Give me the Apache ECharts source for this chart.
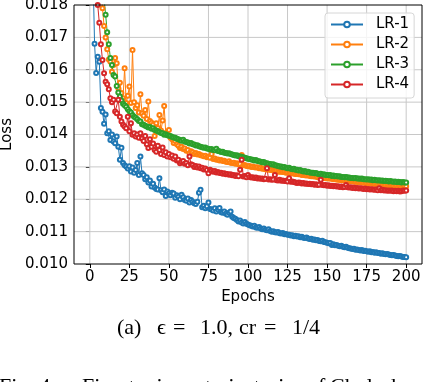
<!DOCTYPE html>
<html>
<head>
<meta charset="utf-8">
<script src="https://cdn.jsdelivr.net/npm/echarts@6/dist/echarts.min.js"></script>
<style>
  html, body { margin: 0; padding: 0; background: #fff; }
  #chart { width: 424px; height: 382px; }
</style>
</head>
<body>
<div id="chart"></div>
<script>
  // epochs 1..200, one loss value per epoch
  const xTicks = [0, 25, 50, 75, 100, 125, 150, 175, 200];
  const yTicks = [0.011, 0.012, 0.013, 0.014, 0.015, 0.016, 0.017];
  const xRange = [-10, 210];
  const yRange = [0.010, 0.018];
  const seriesNames = ['LR-1', 'LR-2', 'LR-3', 'LR-4'];

  const lr1 = [
    0.02150, 0.01900, 0.01680, 0.01590, 0.01640, 0.01625, 0.01482, 0.01470, 0.01433, 0.01462,
    0.01404, 0.01410, 0.01383, 0.01400, 0.01378, 0.01373, 0.01394, 0.01362, 0.01322, 0.01359,
    0.01312, 0.01305, 0.01301, 0.01295, 0.01302, 0.01286, 0.01298, 0.01282, 0.01290, 0.01312,
    0.01275, 0.01332, 0.01280, 0.01275, 0.01262, 0.01268, 0.01252, 0.01258, 0.01239, 0.01248,
    0.01236, 0.01232, 0.01230, 0.01265, 0.01228, 0.01222, 0.01230, 0.01210, 0.01224, 0.01218,
    0.01212, 0.01220, 0.01218, 0.01205, 0.01212, 0.01208, 0.01200, 0.01214, 0.01206, 0.01198,
    0.01195, 0.01202, 0.01190, 0.01198, 0.01192, 0.01188, 0.01185, 0.01192, 0.01220, 0.01229,
    0.01175, 0.01180, 0.01172, 0.01178, 0.01190, 0.01170, 0.01168, 0.01165, 0.01172, 0.01162,
    0.01168, 0.01173, 0.01160, 0.01158, 0.01162, 0.01155, 0.01152, 0.01158, 0.01162, 0.01146,
    0.01142, 0.01140, 0.01136, 0.01131, 0.01134, 0.01128, 0.01125, 0.01130, 0.01124, 0.01122,
    0.01120, 0.01118, 0.01116, 0.01118, 0.01113, 0.01112, 0.01114, 0.01110, 0.01107, 0.01110,
    0.01106, 0.01104, 0.01107, 0.01102, 0.01100, 0.01101, 0.01098, 0.01097, 0.01099, 0.01095,
    0.01094, 0.01096, 0.01092, 0.01093, 0.01090, 0.01090, 0.01088, 0.01089, 0.01086, 0.01087,
    0.01085, 0.01086, 0.01083, 0.01084, 0.01081, 0.01080, 0.01082, 0.01079, 0.01077, 0.01078,
    0.01075, 0.01076, 0.01073, 0.01074, 0.01071, 0.01070, 0.01072, 0.01068, 0.01067, 0.01066,
    0.01064, 0.01065, 0.01059, 0.01061, 0.01058, 0.01059, 0.01056, 0.01055, 0.01056, 0.01053,
    0.01052, 0.01053, 0.01050, 0.01049, 0.01048, 0.01046, 0.01047, 0.01044, 0.01045, 0.01043,
    0.01042, 0.01043, 0.01040, 0.01041, 0.01039, 0.01038, 0.01039, 0.01036, 0.01037, 0.01035,
    0.01036, 0.01034, 0.01034, 0.01032, 0.01033, 0.01031, 0.01030, 0.01031, 0.01029, 0.01028,
    0.01027, 0.01028, 0.01026, 0.01025, 0.01024, 0.01025, 0.01023, 0.01022, 0.01022, 0.01021
  ];

  const lr2 = [
    0.02500, 0.02300, 0.02150, 0.02030, 0.01950, 0.01900, 0.01860, 0.01790, 0.01735, 0.01700,
    0.01663, 0.01632, 0.01625, 0.01594, 0.01615, 0.01636, 0.01620, 0.01543, 0.01560, 0.01528,
    0.01512, 0.01605, 0.01497, 0.01520, 0.01548, 0.01497, 0.01661, 0.01500, 0.01482, 0.01490,
    0.01468, 0.01524, 0.01465, 0.01458, 0.01476, 0.01448, 0.01502, 0.01442, 0.01436, 0.01430,
    0.01395, 0.01435, 0.01420, 0.01460, 0.01412, 0.01443, 0.01488, 0.01405, 0.01400, 0.01414,
    0.01390, 0.01385, 0.01374, 0.01380, 0.01370, 0.01365, 0.01358, 0.01362, 0.01355, 0.01357,
    0.01350, 0.01352, 0.01342, 0.01348, 0.01345, 0.01340, 0.01343, 0.01338, 0.01340, 0.01336,
    0.01335, 0.01333, 0.01334, 0.01330, 0.01331, 0.01328, 0.01340, 0.01324, 0.01326, 0.01322,
    0.01323, 0.01320, 0.01321, 0.01318, 0.01319, 0.01316, 0.01315, 0.01317, 0.01313, 0.01312,
    0.01313, 0.01310, 0.01311, 0.01308, 0.01309, 0.01337, 0.01305, 0.01306, 0.01303, 0.01302,
    0.01303, 0.01300, 0.01301, 0.01299, 0.01298, 0.01299, 0.01296, 0.01297, 0.01294, 0.01295,
    0.01293, 0.01292, 0.01293, 0.01290, 0.01291, 0.01289, 0.01288, 0.01289, 0.01286, 0.01285,
    0.01285, 0.01284, 0.01284, 0.01282, 0.01283, 0.01281, 0.01280, 0.01281, 0.01279, 0.01278,
    0.01278, 0.01277, 0.01277, 0.01275, 0.01276, 0.01274, 0.01273, 0.01274, 0.01272, 0.01271,
    0.01271, 0.01270, 0.01270, 0.01268, 0.01269, 0.01267, 0.01267, 0.01266, 0.01265, 0.01265,
    0.01264, 0.01264, 0.01263, 0.01262, 0.01262, 0.01261, 0.01260, 0.01260, 0.01259, 0.01259,
    0.01258, 0.01258, 0.01257, 0.01256, 0.01256, 0.01255, 0.01255, 0.01254, 0.01253, 0.01253,
    0.01252, 0.01252, 0.01251, 0.01251, 0.01250, 0.01250, 0.01249, 0.01249, 0.01248, 0.01248,
    0.01247, 0.01247, 0.01246, 0.01246, 0.01245, 0.01245, 0.01244, 0.01244, 0.01244, 0.01243,
    0.01243, 0.01242, 0.01242, 0.01242, 0.01241, 0.01241, 0.01241, 0.01240, 0.01240, 0.01240
  ];

  const lr3 = [
    0.02600, 0.02400, 0.02250, 0.02120, 0.02030, 0.01960, 0.01900, 0.01860, 0.01820, 0.01770,
    0.01716, 0.01679, 0.01636, 0.01615, 0.01584, 0.01579, 0.01550, 0.01530, 0.01517, 0.01505,
    0.01495, 0.01490, 0.01486, 0.01478, 0.01472, 0.01468, 0.01460, 0.01455, 0.01452, 0.01447,
    0.01442, 0.01440, 0.01432, 0.01430, 0.01427, 0.01425, 0.01422, 0.01423, 0.01418, 0.01419,
    0.01414, 0.01412, 0.01410, 0.01408, 0.01405, 0.01404, 0.01399, 0.01401, 0.01398, 0.01396,
    0.01395, 0.01392, 0.01391, 0.01390, 0.01387, 0.01385, 0.01383, 0.01381, 0.01384, 0.01378,
    0.01377, 0.01375, 0.01372, 0.01374, 0.01370, 0.01369, 0.01366, 0.01367, 0.01364, 0.01362,
    0.01361, 0.01359, 0.01360, 0.01357, 0.01356, 0.01354, 0.01355, 0.01352, 0.01351, 0.01356,
    0.01349, 0.01348, 0.01346, 0.01347, 0.01344, 0.01343, 0.01341, 0.01342, 0.01340, 0.01338,
    0.01337, 0.01335, 0.01336, 0.01333, 0.01332, 0.01331, 0.01330, 0.01328, 0.01327, 0.01325,
    0.01324, 0.01323, 0.01322, 0.01320, 0.01321, 0.01318, 0.01317, 0.01316, 0.01314, 0.01315,
    0.01312, 0.01311, 0.01310, 0.01309, 0.01307, 0.01308, 0.01305, 0.01304, 0.01303, 0.01301,
    0.01301, 0.01299, 0.01300, 0.01297, 0.01296, 0.01297, 0.01294, 0.01293, 0.01294, 0.01291,
    0.01291, 0.01289, 0.01290, 0.01287, 0.01286, 0.01287, 0.01284, 0.01285, 0.01283, 0.01282,
    0.01282, 0.01280, 0.01281, 0.01279, 0.01278, 0.01279, 0.01276, 0.01277, 0.01275, 0.01275,
    0.01274, 0.01275, 0.01272, 0.01273, 0.01271, 0.01272, 0.01270, 0.01271, 0.01269, 0.01269,
    0.01268, 0.01269, 0.01267, 0.01267, 0.01266, 0.01266, 0.01265, 0.01266, 0.01264, 0.01264,
    0.01263, 0.01264, 0.01262, 0.01262, 0.01261, 0.01262, 0.01260, 0.01261, 0.01259, 0.01260,
    0.01259, 0.01258, 0.01259, 0.01257, 0.01258, 0.01256, 0.01257, 0.01256, 0.01255, 0.01256,
    0.01255, 0.01254, 0.01255, 0.01253, 0.01254, 0.01253, 0.01252, 0.01253, 0.01252, 0.01252
  ];

  const lr4 = [
    0.02400, 0.02150, 0.01980, 0.01860, 0.01800, 0.01745, 0.01679, 0.01630, 0.01589, 0.01563,
    0.01555, 0.01540, 0.01512, 0.01500, 0.01507, 0.01471, 0.01466, 0.01507, 0.01455, 0.01440,
    0.01430, 0.01425, 0.01419, 0.01455, 0.01410, 0.01435, 0.01399, 0.01404, 0.01394, 0.01400,
    0.01390, 0.01404, 0.01388, 0.01380, 0.01395, 0.01370, 0.01358, 0.01385, 0.01362, 0.01372,
    0.01352, 0.01347, 0.01365, 0.01352, 0.01340, 0.01360, 0.01337, 0.01345, 0.01332, 0.01340,
    0.01330, 0.01335, 0.01325, 0.01332, 0.01320, 0.01322, 0.01311, 0.01316, 0.01318, 0.01310,
    0.01312, 0.01305, 0.01332, 0.01308, 0.01306, 0.01300, 0.01303, 0.01298, 0.01301, 0.01296,
    0.01297, 0.01292, 0.01295, 0.01290, 0.01280, 0.01291, 0.01288, 0.01285, 0.01287, 0.01283,
    0.01284, 0.01281, 0.01282, 0.01279, 0.01280, 0.01277, 0.01278, 0.01276, 0.01277, 0.01274,
    0.01275, 0.01272, 0.01274, 0.01271, 0.01291, 0.01322, 0.01270, 0.01272, 0.01268, 0.01275,
    0.01269, 0.01267, 0.01268, 0.01266, 0.01267, 0.01264, 0.01265, 0.01263, 0.01264, 0.01262,
    0.01263, 0.01296, 0.01261, 0.01262, 0.01260, 0.01261, 0.01275, 0.01259, 0.01258, 0.01260,
    0.01257, 0.01258, 0.01256, 0.01257, 0.01255, 0.01265, 0.01254, 0.01255, 0.01253, 0.01252,
    0.01250, 0.01252, 0.01251, 0.01249, 0.01250, 0.01248, 0.01249, 0.01247, 0.01248, 0.01246,
    0.01247, 0.01245, 0.01246, 0.01244, 0.01245, 0.01260, 0.01244, 0.01243, 0.01244, 0.01242,
    0.01243, 0.01241, 0.01242, 0.01240, 0.01241, 0.01239, 0.01240, 0.01238, 0.01239, 0.01237,
    0.01238, 0.01244, 0.01237, 0.01236, 0.01237, 0.01235, 0.01236, 0.01234, 0.01235, 0.01233,
    0.01234, 0.01233, 0.01232, 0.01233, 0.01231, 0.01232, 0.01230, 0.01231, 0.01230, 0.01229,
    0.01230, 0.01228, 0.01234, 0.01228, 0.01229, 0.01227, 0.01228, 0.01226, 0.01227, 0.01226,
    0.01227, 0.01225, 0.01226, 0.01225, 0.01226, 0.01224, 0.01225, 0.01227, 0.01226, 0.01227
  ];

  const colors = ['#1f77b4', '#ff7f0e', '#2ca02c', '#d62728'];
  const allData = [lr1, lr2, lr3, lr4];

  const chart = echarts.init(document.getElementById('chart'), null, { renderer: 'canvas' });

  const tickFont = { fontFamily: 'DejaVu Sans', fontSize: 15, color: '#000' };
  const serif = 'Liberation Serif';

  function serifText(x, y, text, size) {
    return {
      type: 'text', left: x, top: y,
      style: { text: text, font: size + 'px ' + serif, fill: '#000' }
    };
  }

  // grid lines and the frame as plain two-point lines at the tick values / axis limits
  function guide(points, color, z) {
    return {
      type: 'line', data: points, symbol: 'none', silent: true, clip: false, z: z,
      lineStyle: { color: color, width: 1 }, emphasis: { disabled: true }, tooltip: { show: false }
    };
  }
  const guides = []
    .concat(xTicks.map(v => guide([[v, yRange[0]], [v, yRange[1]]], '#c8c8c8', 1)))
    .concat(yTicks.map(v => guide([[xRange[0], v], [xRange[1], v]], '#c8c8c8', 1)))
    .concat([
      guide([[xRange[0], yRange[0]], [xRange[1], yRange[0]]], '#000', 3),
      guide([[xRange[0], yRange[1]], [xRange[1], yRange[1]]], '#000', 3),
      guide([[xRange[0], yRange[0]], [xRange[0], yRange[1]]], '#000', 3),
      guide([[xRange[1], yRange[0]], [xRange[1], yRange[1]]], '#000', 3)
    ]);

  chart.setOption({
    animation: false,
    grid: { left: 74, top: 5, right: 2, bottom: 118, containLabel: false, outerBoundsMode: 'none' },
    legend: {
      orient: 'vertical',
      left: 325, top: 13,
      padding: [4, 5, 6, 5],
      itemGap: 5,
      itemWidth: 32, itemHeight: 7,
      backgroundColor: 'rgba(255,255,255,0.8)',
      borderColor: '#d6d6d6', borderWidth: 1, borderRadius: 3,
      textStyle: { fontFamily: 'DejaVu Sans', fontSize: 15, color: '#000', padding: [0, 0, 0, 8] },
      data: seriesNames
    },
    xAxis: {
      type: 'value', min: xRange[0], max: xRange[1],
      name: 'Epochs', nameLocation: 'middle', nameGap: 22, nameTextStyle: tickFont,
      axisLine: { show: false },
      axisTick: { show: true, length: 4, lineStyle: { color: '#000', width: 1 }, customValues: xTicks },
      axisLabel: Object.assign({ margin: 6, customValues: xTicks }, tickFont),
      splitLine: { show: false }
    },
    yAxis: {
      type: 'value', min: yRange[0], max: yRange[1], interval: 0.001,
      name: 'Loss', nameLocation: 'middle', nameGap: 54, nameTextStyle: tickFont,
      axisLine: { show: false },
      axisTick: { show: true, length: 4, lineStyle: { color: '#000', width: 1 } },
      axisLabel: Object.assign({ margin: 6, formatter: v => v.toFixed(3) }, tickFont),
      splitLine: { show: false }
    },
    series: guides.concat(allData.map((vals, k) => ({
      name: seriesNames[k],
      type: 'line',
      clip: true,
      z: 2,
      data: vals.map((v, i) => [i + 1, v]),
      symbol: 'emptyCircle',
      symbolSize: 4,
      color: colors[k],
      lineStyle: { width: 1, color: colors[k] },
      itemStyle: { color: colors[k], borderWidth: 1 }
    }))),
    graphic: [
      serifText(117, 317, '(a)', 22),
      serifText(157, 317, 'ϵ', 22),
      serifText(173, 317, '=', 22),
      serifText(200, 317, '1.0,', 22),
      serifText(239, 317, 'cr', 22),
      serifText(264, 317, '=', 22),
      serifText(292, 317, '1/4', 22),
      serifText(-1, 376, 'Fig. 4.', 22),
      serifText(82, 376, 'Fine-tuning', 22),
      serifText(205, 376, 'trajectories', 22),
      serifText(307, 376, 'of', 22),
      serifText(330, 376, 'Cholesky', 22)
    ]
  });
</script>
</body>
</html>
